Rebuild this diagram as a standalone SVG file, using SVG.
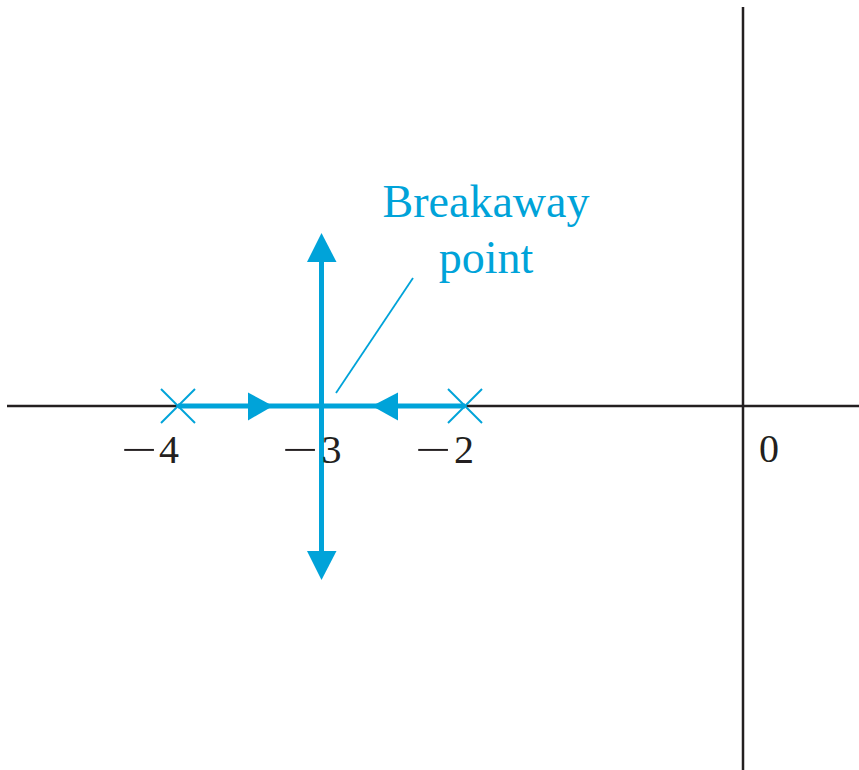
<svg xmlns="http://www.w3.org/2000/svg" width="859" height="770" viewBox="0 0 859 770">
<style>
.axis{stroke:#231f20;stroke-width:2.5;fill:none}
.locus{stroke:#00a3d9;stroke-width:5;fill:none}
.pole{stroke:#00a3d9;stroke-width:2;fill:none}
.head{fill:#00a3d9}
.lbl{font-size:40px;fill:#231f20}
.note{font-size:46px;fill:#00a3d9;text-anchor:middle}
</style>
<rect width="859" height="770" fill="#ffffff"/>
<g id="axes">
<line class="axis" x1="7" y1="406" x2="859" y2="406"/>
<line class="axis" x1="743" y1="7" x2="743" y2="770"/>
</g>
<g id="connectors">
<line class="locus" x1="178" y1="406" x2="465" y2="406"/>
<line class="locus" x1="321.5" y1="258" x2="321.5" y2="555"/>
<polygon class="head" points="321.5,233 307,262 336.5,262"/>
<polygon class="head" points="321.5,580 307,551 336.5,551"/>
<polygon class="head" points="273,406 248,392.5 248,420.5"/>
<polygon class="head" points="372,406 398,392.5 398,420.5"/>
<line stroke="#00a3d9" stroke-width="1.8" x1="336" y1="393" x2="413" y2="278"/>
</g>
<g id="pole-4">
<line class="pole" x1="161" y1="389" x2="195" y2="423"/>
<line class="pole" x1="195" y1="389" x2="161" y2="423"/>
</g>
<g id="pole-2">
<line class="pole" x1="448" y1="389" x2="482" y2="423"/>
<line class="pole" x1="482" y1="389" x2="448" y2="423"/>
</g>
<g id="labels" font-family="Liberation Serif, Times New Roman, DejaVu Serif, serif">
<text class="lbl" transform="translate(121,463) scale(1.6,1)">−</text><text class="lbl" x="159" y="463">4</text>
<text class="lbl" transform="translate(282,463) scale(1.6,1)">−</text><text class="lbl" x="321.5" y="463">3</text>
<text class="lbl" transform="translate(415,463) scale(1.6,1)">−</text><text class="lbl" x="454" y="463">2</text>
<text class="lbl" x="759" y="462">0</text>
</g>
<g id="breakaway-label" font-family="Liberation Serif, Times New Roman, DejaVu Serif, serif">
<text class="note" x="486" y="217">Breakaway</text>
<text class="note" x="486" y="273">point</text>
</g>
</svg>
